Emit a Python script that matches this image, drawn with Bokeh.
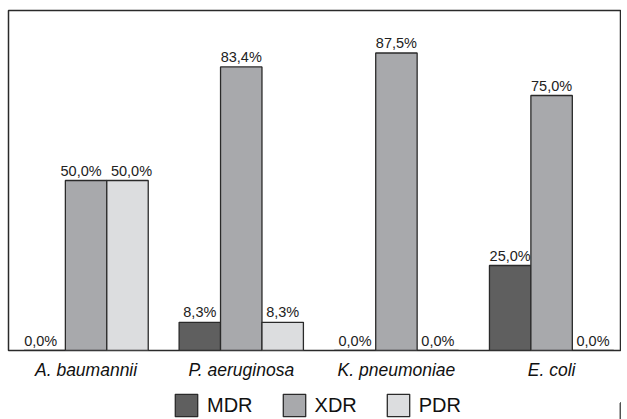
from bokeh.plotting import figure
from bokeh.models import ColumnDataSource, Range1d, FixedTicker, Legend, LegendItem
from bokeh.layouts import column
from bokeh.core.properties import value
from bokeh.embed import file_html
from bokeh.resources import INLINE

categories = ["A. baumannii", "P. aeruginosa", "K. pneumoniae", "E. coli"]
mdr = [0.0, 8.3, 0.0, 25.0]
xdr = [50.0, 83.4, 87.5, 75.0]
pdr = [50.0, 8.3, 0.0, 0.0]
series_names = ["MDR", "XDR", "PDR"]
series_colors = ["#5f5f5f", "#a8a9ac", "#dcdddf"]
# small horizontal nudges (px) of value labels, to keep crowded labels apart
label_nudge = {"MDR": [-4, 0, 0, 0], "XDR": [-5, 0, 0, 0], "PDR": [4, 0, 0, 0]}

FONT = "Liberation Sans"
EDGE = "#2a2a2a"
BAR_W = 0.267
offsets = [-BAR_W, 0.0, BAR_W]

p = figure(width=621, height=386, output_backend="svg", toolbar_location=None,
           x_range=Range1d(-0.5, 3.444), y_range=Range1d(0, 100),
           min_border_left=8, min_border_right=1, min_border_top=10, min_border_bottom=36)
p.xgrid.visible = False
p.ygrid.visible = False
p.yaxis.visible = False
p.outline_line_color = EDGE
p.outline_line_width = 1.5
p.background_fill_color = "white"
p.border_fill_color = "white"

idx = list(range(len(categories)))
for name, vals, col, off in zip(series_names, [mdr, xdr, pdr], series_colors, offsets):
    xs = [i + off for i in idx]
    src = ColumnDataSource(dict(x=xs, top=vals, dx=label_nudge[name],
                                label=[f"{v:.1f}%".replace(".", ",") for v in vals]))
    p.vbar(x="x", top="top", width=BAR_W, bottom=0, source=src,
           fill_color=col, line_color=EDGE, line_width=1.3)
    p.text(x="x", y="top", text="label", source=src, text_align="center",
           text_baseline="alphabetic", x_offset="dx", y_offset=-10, text_font=value(FONT),
           text_font_size="14.5px", text_color="#222222")

ax = p.xaxis[0]
ax.ticker = FixedTicker(ticks=idx)
ax.major_label_overrides = {i: c for i, c in zip(idx, categories)}
ax.major_tick_line_color = None
ax.minor_tick_line_color = None
ax.axis_line_color = None
ax.major_label_standoff = 3
ax.major_label_text_font = FONT
ax.major_label_text_font_style = "italic"
ax.major_label_text_font_size = "17.5px"
ax.major_label_text_color = "#111111"

# legend strip
lg = figure(width=621, height=33, output_backend="svg", toolbar_location=None,
            x_range=Range1d(0, 1), y_range=Range1d(0, 1),
            min_border_left=0, min_border_right=0, min_border_top=0, min_border_bottom=0)
lg.axis.visible = False
lg.grid.visible = False
lg.outline_line_color = None
lg.border_fill_color = "white"
items = []
for name, col in zip(series_names, series_colors):
    r = lg.vbar(x=[5], top=[0.5], width=0.1, fill_color=col, line_color=EDGE, line_width=1.3)
    items.append(LegendItem(label=name, renderers=[r]))
legend = Legend(items=items, orientation="horizontal", location=(164, 0),
                glyph_width=28, glyph_height=28, label_standoff=7, spacing=27,
                label_text_font=FONT, label_text_font_size="20px",
                label_text_color="#111111", border_line_color=None,
                background_fill_alpha=0, margin=0, padding=0)
lg.add_layout(legend, "center")

layout = column(p, lg, spacing=0)
open("out.html", "w").write(file_html(layout, INLINE))
